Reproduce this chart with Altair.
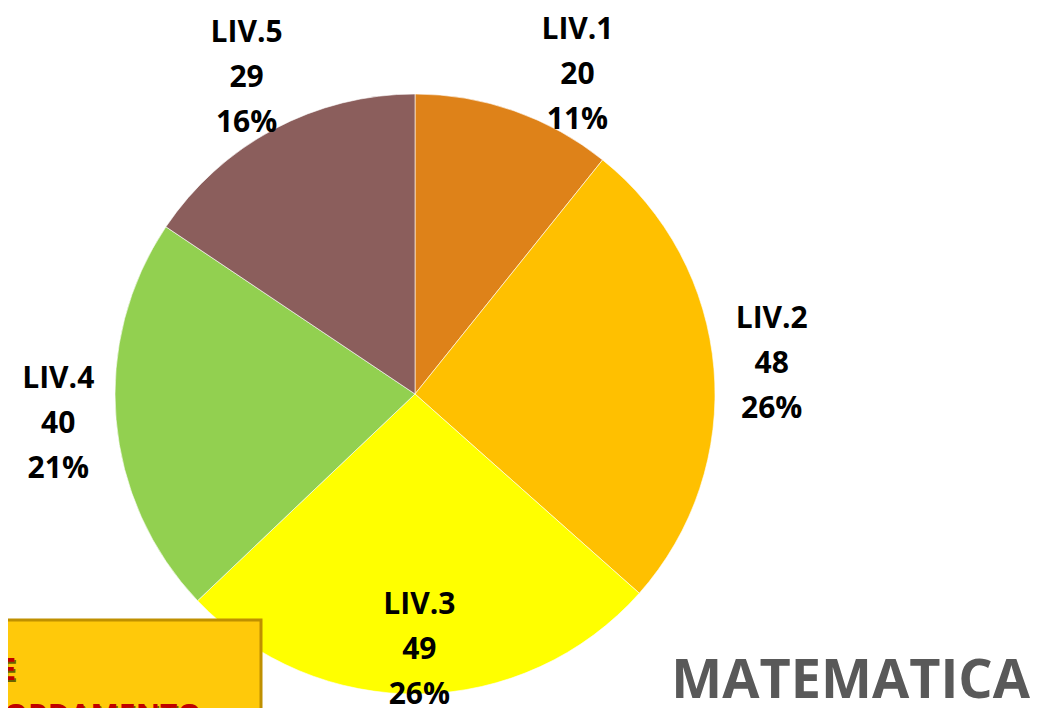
import altair as alt
import pandas as pd

categories = ["LIV.1", "LIV.2", "LIV.3", "LIV.4", "LIV.5"]
values = [20, 48, 49, 40, 29]
percents = ["11%", "26%", "26%", "21%", "16%"]
colors = ["#DE8219", "#FFC000", "#FFFF00", "#92D050", "#8B5E5C"]
title_text = "MATEMATICA"
box_line1 = "E"
box_line2 = "ORDAMENTO"

df = pd.DataFrame({
    "cat": categories,
    "val": values,
    "pct": percents,
    "idx": list(range(len(categories))),
})
df["label"] = [f"{c}\n{v}\n{p}" for c, v, p in zip(df["cat"], df["val"], df["pct"])]

CX, CY = 407, 386
FONT = "Open Sans"
LINE_H = 45
TOP_LIMIT = 67  # keep label blocks inside the view

arcs = alt.Chart(df).mark_arc(radius=300, stroke="#FFFFFF", strokeWidth=0.6).encode(
    theta=alt.Theta("val:Q", stack=True),
    order=alt.Order("idx:Q"),
    x=alt.value(CX),
    y=alt.value(CY),
    color=alt.Color("cat:N", scale=alt.Scale(domain=categories, range=colors), legend=None),
)

labels = alt.Chart(df).transform_window(
    cum="sum(val)", sort=[alt.SortField("idx")], frame=[None, 0]
).transform_joinaggregate(
    tot="sum(val)"
).transform_calculate(
    mid="(datum.cum - datum.val / 2) / datum.tot * 2 * PI",
    rlab="datum.cat == 'LIV.3' ? 256 : 358",
).transform_calculate(
    pxr=f"{CX} + datum.rlab * sin(datum.mid)",
    pyr=f"{CY} - datum.rlab * cos(datum.mid)",
).transform_calculate(
    py=f"max(datum.pyr, {TOP_LIMIT})",
    px=(f"datum.pyr < {TOP_LIMIT} ? {CX} + (sin(datum.mid) >= 0 ? 1 : -1) * "
        f"sqrt(datum.rlab * datum.rlab - ({CY} - {TOP_LIMIT}) * ({CY} - {TOP_LIMIT})) : datum.pxr"),
).mark_text(
    font=FONT, fontSize=30, fontWeight="bold", color="#000000",
    lineBreak="\n", lineHeight=LINE_H, align="center", baseline="middle",
    dy=-LINE_H,
).encode(
    x=alt.X("px:Q", scale=None),
    y=alt.Y("py:Q", scale=None),
    text="label:N",
)

ann = alt.Chart(pd.DataFrame({"a": [0]}))

box = ann.mark_rect(fill="#FFC90A", stroke="#BF9000", strokeWidth=3).encode(
    x=alt.value(-10), x2=alt.value(253), y=alt.value(612), y2=alt.value(730)
)

shadow1 = ann.mark_text(
    text=box_line1, font=FONT, fontSize=30, fontWeight="bold", color="#6B6100",
    align="right", baseline="alphabetic", dx=1.5, dy=1.5,
).encode(x=alt.value(8), y=alt.value(672))
txt1 = ann.mark_text(
    text=box_line1, font=FONT, fontSize=30, fontWeight="bold", color="#C00000",
    align="right", baseline="alphabetic",
).encode(x=alt.value(8), y=alt.value(672))

shadow2 = ann.mark_text(
    text=box_line2, font=FONT, fontSize=30, fontWeight="bold", color="#6B6100",
    align="left", baseline="top", dx=1.5, dy=1.5,
).encode(x=alt.value(-4), y=alt.value(694))
txt2 = ann.mark_text(
    text=box_line2, font=FONT, fontSize=30, fontWeight="bold", color="#C00000",
    align="left", baseline="top",
).encode(x=alt.value(-4), y=alt.value(694))

title = ann.mark_text(
    text=title_text, font=FONT, fontSize=54, fontWeight="bold", color="#595959",
    align="right", baseline="alphabetic",
).encode(x=alt.value(1022), y=alt.value(690))

chart = alt.layer(arcs, labels, box, shadow2, txt2, shadow1, txt1, title).properties(
    width=1026, height=700, padding=0, autosize="none"
).configure_view(stroke=None)

chart.save("out.html", embed_options={"renderer": "svg", "actions": False})
